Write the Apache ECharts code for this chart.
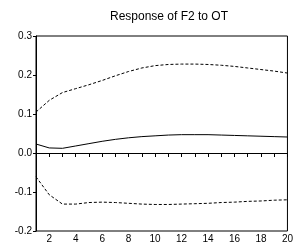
<!DOCTYPE html>
<html>
<head>
<meta charset="utf-8">
<script src="https://cdn.jsdelivr.net/npm/echarts@6/dist/echarts.min.js"></script>
<style>
html, body { margin: 0; padding: 0; background: #fff; }
#chart { width: 296px; height: 249px; }
</style>
</head>
<body>
<div id="chart"></div>
<script>
// 期数
var periods = [1, 2, 3, 4, 5, 6, 7, 8, 9, 10, 11, 12, 13, 14, 15, 16, 17, 18, 19, 20];
// 脉冲响应
var response = [0.023, 0.013, 0.012, 0.018, 0.024, 0.030, 0.035, 0.039, 0.042, 0.044,
    0.046, 0.047, 0.047, 0.047, 0.046, 0.045, 0.044, 0.043, 0.042, 0.041];
// 上下置信带
var upperBand = [0.105, 0.135, 0.155, 0.165, 0.175, 0.186, 0.198, 0.209, 0.218, 0.224,
    0.227, 0.228, 0.228, 0.227, 0.225, 0.222, 0.218, 0.214, 0.210, 0.205];
var lowerBand = [-0.061, -0.107, -0.131, -0.131, -0.127, -0.126, -0.127, -0.129, -0.131, -0.132,
    -0.132, -0.131, -0.130, -0.129, -0.127, -0.126, -0.124, -0.123, -0.121, -0.120];
var yTicks = [-0.2, -0.1, 0.0, 0.1, 0.2, 0.3];

function pairs(vals) {
    var out = [];
    for (var i = 0; i < periods.length; i++) out.push([periods[i], vals[i]]);
    return out;
}

var myChart = echarts.init(document.getElementById('chart'));
var option = {
    animation: false,
    backgroundColor: '#fff',
    title: {
        text: 'Response of F2 to OT',
        left: 164,
        textAlign: 'center',
        top: 6,
        textStyle: { fontSize: 12, fontWeight: 'normal', color: '#000', fontFamily: 'Liberation Sans, Arial' }
    },
    grid: {
        left: 36, right: 3, top: 36, bottom: 18,
        show: true, borderColor: '#000', borderWidth: 1
    },
    xAxis: {
        type: 'value', min: 1, max: 20, interval: 1,
        axisLine: { lineStyle: { color: '#000', width: 1 } },
        axisTick: { length: 4, lineStyle: { color: '#000' } },
        axisLabel: {
            color: '#000', fontSize: 10, margin: 3, fontFamily: 'Liberation Sans, Arial',
            showMinLabel: true, showMaxLabel: true,
            formatter: function(v) { return v % 2 === 0 ? String(v) : ''; }
        },
        splitLine: { show: false }
    },
    yAxis: {
        type: 'value', min: yTicks[0], max: yTicks[yTicks.length - 1], interval: 0.1,
        axisLine: { lineStyle: { color: '#000', width: 1 } },
        axisTick: { length: 3, lineStyle: { color: '#000' } },
        axisLabel: {
            color: '#000', fontSize: 10, margin: 4, fontFamily: 'Liberation Sans, Arial',
            formatter: function(v) { return v.toFixed(1); }
        },
        splitLine: { show: false }
    },
    series: [
        {
            type: 'line', data: pairs(response), symbol: 'none',
            lineStyle: { color: '#000', width: 1 },
            markLine: {
                silent: true, symbol: 'none', label: { show: false },
                lineStyle: { color: '#000', width: 1, type: 'solid' },
                data: [{ yAxis: 0 }]
            }
        },
        {
            type: 'line', data: pairs(upperBand), symbol: 'none',
            lineStyle: { color: '#000', width: 1, type: [3, 2] }
        },
        {
            type: 'line', data: pairs(lowerBand), symbol: 'none',
            lineStyle: { color: '#000', width: 1, type: [3, 2] }
        }
    ]
};
myChart.setOption(option);
</script>
</body>
</html>
